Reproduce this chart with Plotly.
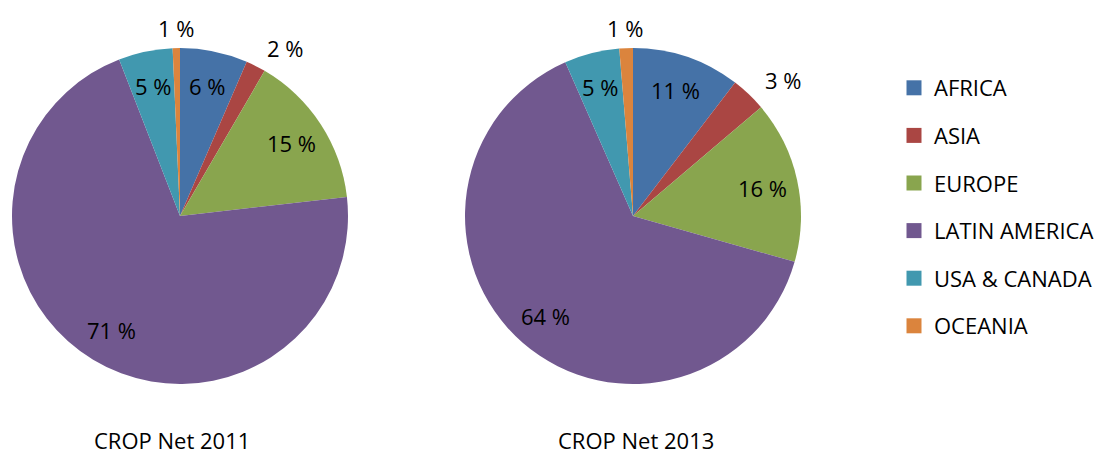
import math
import plotly.graph_objects as go

regions = ["AFRICA", "ASIA", "EUROPE", "LATIN AMERICA", "USA & CANADA", "OCEANIA"]
colors = ["#4572A7", "#AA4643", "#89A54E", "#71588F", "#4198AF", "#DB843D"]
share_2011 = [6.5, 1.9, 14.8, 70.9, 5.2, 0.7]
share_2013 = [10.4, 3.4, 15.6, 64.0, 5.3, 1.3]
labels_2011 = ["6 %", "2 %", "15 %", "71 %", "5 %", "1 %"]
labels_2013 = ["11 %", "3 %", "16 %", "64 %", "5 %", "1 %"]
titles = ["CROP Net 2011", "CROP Net 2013"]
outside = [False, True, False, False, False, True]

FONT = "Open Sans"
# page body has an 8px margin; figure sized to fit the window
W, H = 1094, 449
R = 168
pies = [dict(vals=share_2011, txt=labels_2011, cx=172, cy=208, title=titles[0], tx=164),
        dict(vals=share_2013, txt=labels_2013, cx=625, cy=208, title=titles[1], tx=628)]

fig = go.Figure()

for p in pies:
    cx, cy = p["cx"], p["cy"]
    fig.add_trace(go.Pie(
        labels=regions, values=p["vals"], textinfo="none",
        sort=False, direction="clockwise", rotation=0,
        marker=dict(colors=colors, line=dict(width=0)),
        domain=dict(x=[(cx - R) / W, (cx + R) / W], y=[1 - (cy + R) / H, 1 - (cy - R) / H]),
        showlegend=False, hoverinfo="label+percent",
    ))
    # data labels at the slice mid-angle
    total = sum(p["vals"])
    cum = 0.0
    for v, t, out in zip(p["vals"], p["txt"], outside):
        mid = (cum + v / 2) / total * 2 * math.pi
        cum += v
        rr = R * (1.12 if out else 0.79)
        lx = cx + rr * math.sin(mid)
        ly = cy - rr * math.cos(mid)
        xa = "left" if (out and math.sin(mid) > 0.2) else "center"
        fig.add_annotation(text=t, x=lx / W, y=1 - ly / H, xref="paper", yref="paper",
                           showarrow=False, xanchor=xa, yanchor="middle",
                           font=dict(family=FONT, size=22, color="#000000"))
    fig.add_annotation(text=p["title"], x=p["tx"] / W, y=0, xref="paper", yref="paper",
                       showarrow=False, xanchor="center", yanchor="bottom",
                       font=dict(family=FONT, size=22, color="#000000"))

for name, c in zip(regions, colors):
    fig.add_trace(go.Scatter(
        x=[None], y=[None], mode="markers", name=name, legendgroup=name,
        marker=dict(symbol="square", size=15, color=c),
    ))

fig.update_layout(
    width=W, height=H, margin=dict(l=0, r=0, t=0, b=0),
    paper_bgcolor="white", plot_bgcolor="white",
    xaxis=dict(visible=False), yaxis=dict(visible=False),
    legend=dict(x=886 / W, y=1 - 59 / H, xanchor="left", yanchor="top",
                font=dict(family=FONT, size=22, color="#000000"),
                tracegroupgap=16, itemwidth=30, traceorder="grouped",
                bgcolor="rgba(0,0,0,0)"),
)

fig.write_html("out.html")
